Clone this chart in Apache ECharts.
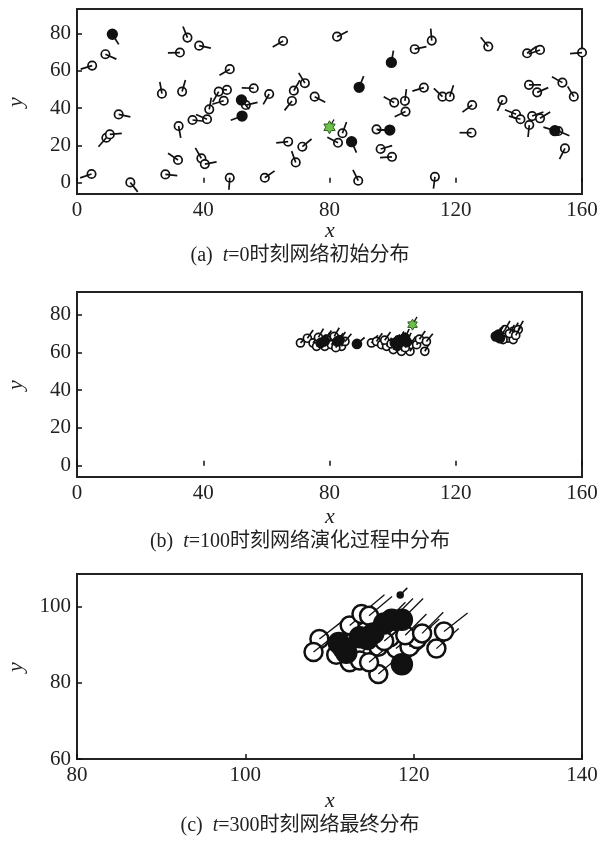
<!DOCTYPE html>
<html>
<head>
<meta charset="utf-8">
<script src="https://cdn.jsdelivr.net/npm/echarts@6/dist/echarts.min.js"></script>
<style>html,body{margin:0;padding:0;background:#fff}#c{width:601px;height:841px}</style>
</head>
<body>
<div id="c"></div>
<script>
// ---------------- data: [x, y, heading in degrees] ----------------
// panel (a) t=0
var aOpen = [
  [9.0,68.8,-24],[4.8,62.7,197],[35.0,77.7,112],[38.7,73.4,-12],[32.6,69.7,182],
  [65.3,75.9,210],[48.4,60.8,211],[26.9,47.7,100],[33.3,48.8,74],[47.5,49.7,176],
  [44.9,48.8,240],[56.0,50.6,178],[60.9,47.5,240],[46.5,43.9,197],[53.5,41.6,13],
  [41.9,39.3,80],[36.6,33.6,-6],[41.2,34.0,157],[13.2,36.6,-12],[32.2,30.4,-80],
  [9.3,24.1,229],[10.4,25.9,5],[66.9,22.0,186],[32.0,12.2,146],[39.4,13.1,120],
  [40.5,10.0,11],[69.3,10.9,110],[4.6,4.7,199],[16.9,0.2,-52],[28.0,4.5,-6],
  [48.4,2.7,-94],[59.5,2.7,35],[68.7,49.3,60],[68.1,43.8,232],[71.4,19.3,40],
  [82.4,78.2,27],[112.4,76.1,95],[107.0,71.5,12],[130.3,72.9,129],[142.6,69.3,36],
  [146.7,71.1,200],[160.0,69.7,185],[72.2,53.3,121],[75.3,46.1,-28],[100.5,42.9,151],
  [103.9,43.8,83],[109.9,50.9,197],[115.8,46.1,136],[118.1,46.1,72],[125.2,41.6,216],
  [104.1,38.1,205],[134.8,44.3,245],[84.1,26.5,70],[82.7,21.4,153],[94.9,28.6,-5],
  [96.2,18.1,16],[99.8,13.9,184],[89.1,1.1,116],[113.4,3.2,-97],[125.0,26.8,180],
  [143.2,52.4,0],[145.8,48.4,23],[153.8,53.6,151],[157.4,46.1,121],[139.1,36.7,158],
  [140.5,34.0,165],[144.2,35.7,20],[146.7,34.5,32],[143.3,30.9,-96],[152.5,27.7,-23],
  [154.6,18.4,243]
];
var aFilled = [
  [11.2,79.5,-58],[52.1,44.3,-50],[52.3,35.7,200],[99.6,64.4,80],[89.4,51.1,68],
  [87.0,22.0,-66],[99.1,28.2,180],[151.4,27.9,163]
];
var aStar = [[80.0,29.7,60]];

// panel (b) t=100
var bOpen = [
  [70.8,65.0,45],[73.0,67.5,55],[74.8,65.0,55],[75.9,63.2,55],[76.5,68.0,60],
  [78.5,63.2,55],[79.0,67.0,60],[80.6,64.1,55],[81.5,68.5,60],[83.8,63.2,55],
  [84.9,65.8,50],[82.0,62.5,60],
  [93.3,65.0,50],[94.9,65.8,55],[96.5,64.1,55],[98.1,63.2,60],[97.5,66.5,55],
  [100.2,61.5,60],[102.8,60.6,60],[105.5,60.6,60],[105.5,64.1,55],[107.6,64.1,55],
  [108.5,67.0,55],[110.2,60.6,60],[110.7,65.8,50],[99.5,64.5,55],[104.0,62.5,60],
  [135.6,72.1,60],[138.2,71.2,60],[139.8,72.1,60],[136.6,67.6,60],[138.2,66.8,60],
  [135.0,66.8,60],[137.0,70.0,60],[139.0,69.0,60]
];
var bFilled = [
  [77.2,65.0,55],[78.5,66.0,60],[82.5,65.8,55],[83.2,66.5,55],[88.7,64.5,40],
  [100.7,65.0,60],[101.5,63.5,60],[102.8,65.8,65],[103.9,67.6,65],[102.0,66.5,60],
  [104.5,65.5,65],[133.5,69.4,60],[132.7,68.5,60],[134.0,67.5,60]
];
var bStar = [[106.3,74.7,60]];

// panel (c) t=300
var cOpen = [
  [108.8,91.5,38],[108.1,88.1,38],[110.8,87.4,40],[112.4,85.4,40],[113.6,85.9,40],
  [112.4,95.1,40],[113.8,98.1,40],[114.7,97.6,40],[115.8,89.5,40],[115.8,82.3,40],
  [114.7,85.4,40],[117.9,89.0,40],[119.5,89.5,42],[120.4,91.5,42],[122.7,89.0,42],
  [123.6,93.5,38],[117.2,92.0,42],[111.5,89.0,40],[119.0,92.5,45],[116.5,91.0,40],
  [121.0,93.0,45]
];
var cFilled = [
  [111.1,90.5,40],[112.0,87.9,40],[113.6,92.0,40],[114.5,91.5,40],[116.5,95.6,45],
  [118.6,96.6,45],[117.4,96.6,45],[118.6,84.9,40],[115.2,93.0,40]
];
var cStar = [[118.4,103.1,45]];

// ticks
var ticksX1 = [0,40,80,120,160];
var ticksY1 = [0,20,40,60,80];
var ticksX3 = [80,100,120,140];
var ticksY3 = [60,80,100];

// ---------------- styling ----------------
var SERIF = "'Liberation Serif','Times New Roman',serif";
var CAPF = "'Liberation Serif','Noto Sans CJK SC',serif";
var INK = '#111';

function glyph(r, len, fill, lw, llw) {
  return function (params, api) {
    var c = api.coord([api.value(0), api.value(1)]);
    var a = api.value(2) * Math.PI / 180;
    return {
      type: 'group',
      children: [
        {type: 'circle', shape: {cx: c[0], cy: c[1], r: r},
         style: {fill: fill, stroke: INK, lineWidth: lw}},
        {type: 'line', shape: {x1: c[0], y1: c[1], x2: c[0] + len * Math.cos(a), y2: c[1] - len * Math.sin(a)},
         style: {stroke: INK, lineWidth: llw || lw}}
      ]
    };
  };
}
function star(r, len, lw, color) {
  return function (params, api) {
    var c = api.coord([api.value(0), api.value(1)]);
    var a = api.value(2) * Math.PI / 180;
    var pts = [];
    for (var i = 0; i < 12; i++) {
      var rr = (i % 2 === 0) ? r : r * 0.58;
      var t = -Math.PI / 2 + i * Math.PI / 6;
      pts.push([c[0] + rr * Math.cos(t), c[1] + rr * Math.sin(t)]);
    }
    return {
      type: 'group',
      children: [
        {type: 'line', shape: {x1: c[0], y1: c[1], x2: c[0] + len * Math.cos(a), y2: c[1] - len * Math.sin(a)},
         style: {stroke: INK, lineWidth: lw}},
        {type: 'polygon', shape: {points: pts}, style: {fill: color, stroke: '#2d5a1e', lineWidth: 1}}
      ]
    };
  };
}

function xAxis(gi, min, max, ticks) {
  return {
    type: 'value', gridIndex: gi, min: min, max: max,
    axisLine: {show: false},
    axisTick: {show: true, inside: true, length: 5, customValues: ticks, lineStyle: {color: INK, width: 1.5}},
    axisLabel: {customValues: ticks, margin: 6, color: '#222', fontFamily: SERIF, fontSize: 21},
    splitLine: {show: false}
  };
}
function yAxis(gi, min, max, ticks) {
  return {
    type: 'value', gridIndex: gi, min: min, max: max,
    axisLine: {show: false},
    axisTick: {show: true, inside: true, length: 5, customValues: ticks, lineStyle: {color: INK, width: 1.5}},
    axisLabel: {customValues: ticks, margin: 6, color: '#222', fontFamily: SERIF, fontSize: 21},
    splitLine: {show: false}
  };
}
function grid(top) {
  return {left: 77, top: top, width: 505, height: 185, show: true,
          borderColor: '#222', borderWidth: 2, backgroundColor: 'transparent', containLabel: false};
}
function series(gi, data, render) {
  return {type: 'custom', xAxisIndex: gi, yAxisIndex: gi, data: data, renderItem: render, clip: false, silent: true};
}
function txt(x, y, s, opts) {
  return {type: 'text', x: x, y: y, style: Object.assign({
    text: s, fontFamily: SERIF, fontSize: 22, fill: '#222', align: 'center', verticalAlign: 'middle'}, opts || {})};
}
function caption(x, y, label, rest) {
  return {type: 'text', x: x, y: y, style: {
    text: '{n|' + label + '  }{i|t}{n|' + rest + '}',
    align: 'center', verticalAlign: 'middle', fill: '#222',
    rich: {
      n: {fontFamily: CAPF, fontSize: 20, fill: '#222'},
      i: {fontFamily: SERIF, fontStyle: 'italic', fontSize: 20, fill: '#222'}
    }
  }};
}

var chart = echarts.init(document.getElementById('c'), null, {renderer: 'canvas'});
chart.setOption({
  animation: false,
  backgroundColor: '#fff',
  grid: [grid(9), grid(292), grid(574)],
  xAxis: [xAxis(0, 0, 160, ticksX1), xAxis(1, 0, 160, ticksX1), xAxis(2, 80, 140, ticksX3)],
  yAxis: [yAxis(0, -6, 93, ticksY1), yAxis(1, -6, 92, ticksY1), yAxis(2, 60, 108.6, ticksY3)],
  series: [
    series(0, aOpen, glyph(4.2, 12, '#fff', 1.7)),
    series(0, aFilled, glyph(4.8, 12, INK, 1.7)),
    series(0, aStar, star(6.5, 9, 1.3, '#6cc04a')),
    series(1, bOpen, glyph(4, 10, '#fff', 1.7)),
    series(1, bFilled, glyph(4.5, 10, INK, 1.7)),
    series(1, bStar, star(5.5, 9, 1.3, '#6cc04a')),
    series(2, cOpen, glyph(9, 30, '#fff', 2.5, 1.3)),
    series(2, cFilled, glyph(10, 30, INK, 2.5, 1.3)),
    series(2, cStar, glyph(3, 10, INK, 1.5))
  ],
  graphic: [
    txt(330, 231, 'x', {fontStyle: 'italic'}),
    txt(330, 517, 'x', {fontStyle: 'italic'}),
    txt(330, 801, 'x', {fontStyle: 'italic'}),
    {type: 'text', x: 16, y: 102, rotation: Math.PI / 2, style: {text: 'y', fontFamily: SERIF, fontStyle: 'italic', fontSize: 22, fill: '#222', align: 'center', verticalAlign: 'middle'}},
    {type: 'text', x: 16, y: 385, rotation: Math.PI / 2, style: {text: 'y', fontFamily: SERIF, fontStyle: 'italic', fontSize: 22, fill: '#222', align: 'center', verticalAlign: 'middle'}},
    {type: 'text', x: 16, y: 667, rotation: Math.PI / 2, style: {text: 'y', fontFamily: SERIF, fontStyle: 'italic', fontSize: 22, fill: '#222', align: 'center', verticalAlign: 'middle'}},
    caption(300, 256, '(a)', '=0时刻网络初始分布'),
    caption(300, 542, '(b)', '=100时刻网络演化过程中分布'),
    caption(300, 826, '(c)', '=300时刻网络最终分布')
  ]
});
</script>
</body>
</html>
